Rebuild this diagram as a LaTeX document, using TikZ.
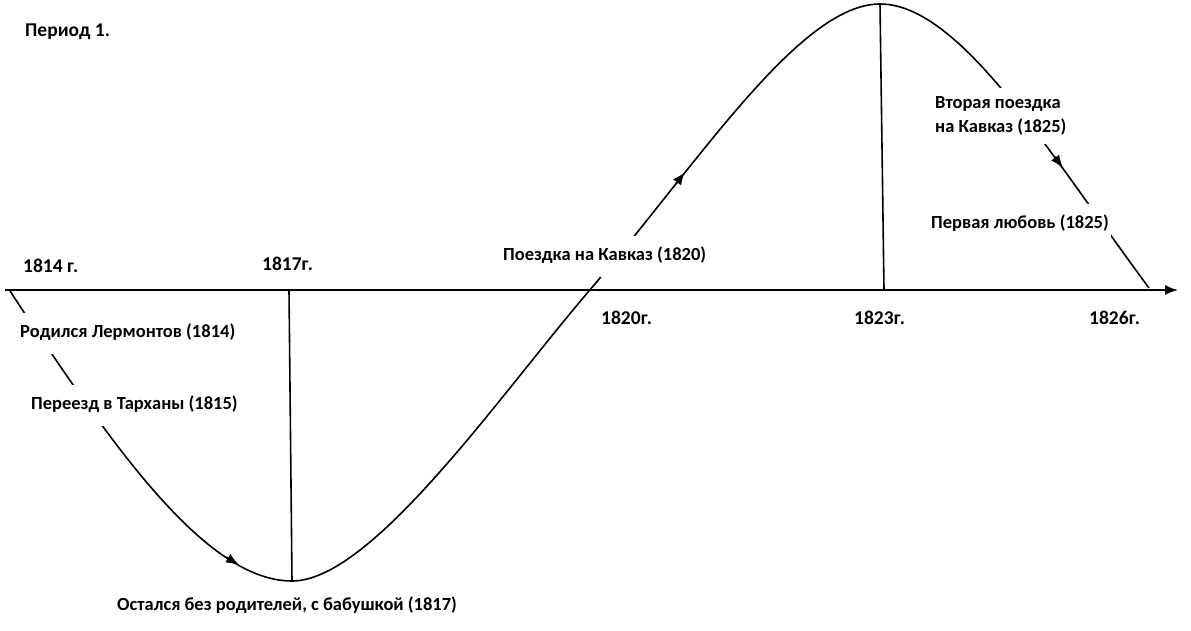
\documentclass[tikz,border=0pt]{standalone}
\usepackage{fontspec}
\setmainfont{Carlito}
\usetikzlibrary{arrows.meta}
\tikzstyle{txt} = [font=\bfseries\fontsize{18.5}{24}\selectfont, anchor=west, inner xsep=2pt, inner ysep=2pt]
\tikzstyle{year} = [txt, font=\bfseries\fontsize{19.5}{24}\selectfont]
\tikzstyle{event} = [txt, fill=white, inner ysep=12pt, text height=13pt, text depth=4pt]
\tikzstyle{event2} = [txt, fill=white, inner ysep=9pt, align=left]
\tikzstyle{wave} = [draw, line width=1.6pt]
\tikzstyle{line} = [draw, line width=1.6pt, -{Latex[length=13pt,width=10pt]}]

\begin{document}
\begin{tikzpicture}[x=1pt, y=-1pt]
    \useasboundingbox (0,0) rectangle (1191,630);

    % Time axis
    \coordinate (start) at (5,290);
    \coordinate (end) at (1178,290);
    \path [line] (start) -- (end);

    % Turning points of the wave
    \coordinate (born) at (10,291);
    \coordinate (low) at (292,581);
    \coordinate (cross) at (589,291);
    \coordinate (high) at (880,4);
    \coordinate (last) at (1149,288);

    % The wave of life
    \path [wave] (born) .. controls (110,443) and (205,581) .. (low)
                        .. controls (372,581) and (499,396) .. (cross)
                        .. controls (699,162) and (800,4) .. (high)
                        .. controls (960,4) and (1049,153) .. (last);

    % Arrows along the wave
    \coordinate (a1) at (226,557);
    \coordinate (b1) at (239,565);
    \coordinate (a2) at (675,185);
    \coordinate (b2) at (685,172);
    \coordinate (a3) at (1054,156);
    \coordinate (b3) at (1063,168);
    \path [line] (a1) -- (b1);
    \path [line] (a2) -- (b2);
    \path [line] (a3) -- (b3);

    % Vertical marks at the turning points
    \coordinate (t1817) at (289,290);
    \coordinate (t1823) at (884,290);
    \path [wave] (t1817) -- (low);
    \path [wave] (high) -- (t1823);

    % Years
    \node [year] (period) at (23,32) {Период 1.};
    \node [year] (y1814) at (21,266) {1814 г.};
    \node [year] (y1817) at (260,264) {1817г.};
    \node [year] (y1820) at (599,318) {1820г.};
    \node [year] (y1823) at (852,318) {1823г.};
    \node [year] (y1826) at (1087,318) {1826г.};

    % Events
    \node [event] (birth) at (18,333) {Родился Лермонтов (1814)};
    \node [event] (tarkhany) at (29,405) {Переезд в Тарханы (1815)};
    \node [txt] (orphan) at (115,605) {Остался без родителей, с бабушкой (1817)};
    \node [event] (caucasus1) at (501,256) {Поездка на Кавказ (1820)};
    \node [event2] (caucasus2) at (933,116) {Вторая поездка\\на Кавказ (1825)};
    \node [event] (love) at (929,224) {Первая любовь (1825)};
\end{tikzpicture}
\end{document}
